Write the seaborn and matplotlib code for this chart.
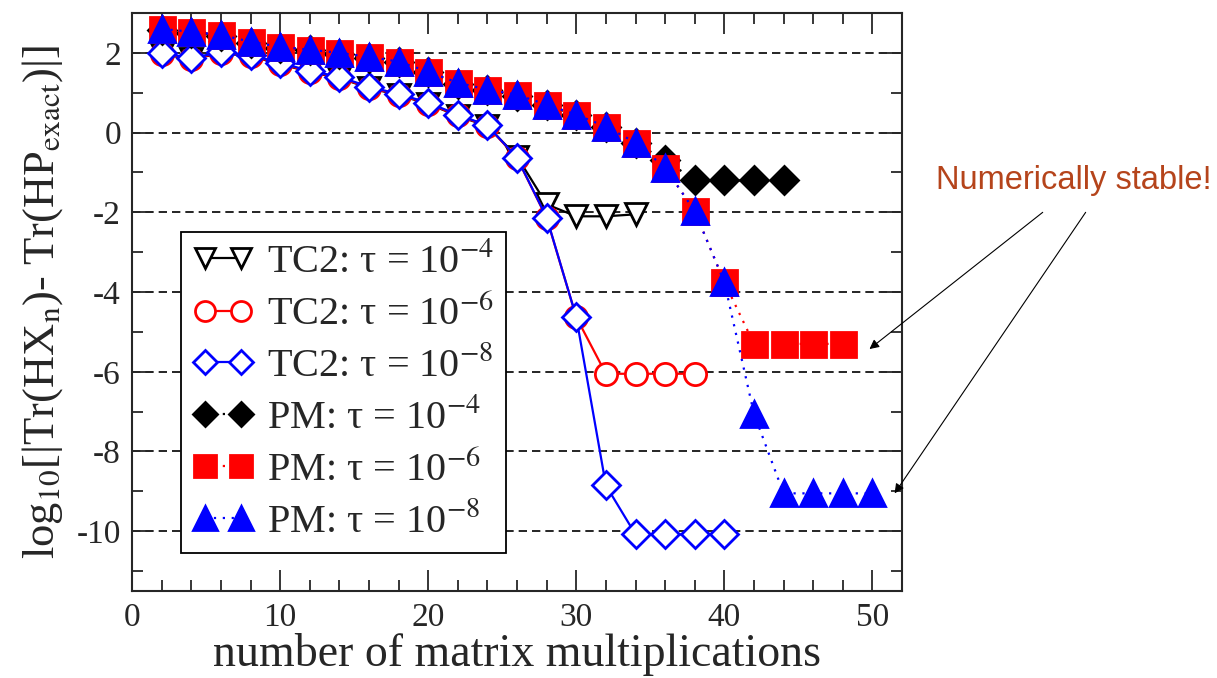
import numpy as np
import matplotlib
matplotlib.use("Agg")
import matplotlib.pyplot as plt
import seaborn as sns
from matplotlib.ticker import MultipleLocator

# TC2 purification, three tolerances
x_tc2_4 = [2, 4, 6, 8, 10, 12, 14, 16, 18, 20, 22, 24, 26, 28, 30, 32, 34]
y_tc2_4 = [1.97, 1.84, 1.99, 1.92, 1.72, 1.52, 1.37, 1.12, 0.94, 0.72, 0.42, 0.16,
           -0.6, -1.8, -2.1, -2.1, -2.05]
x_tc2_6 = [2, 4, 6, 8, 10, 12, 14, 16, 18, 20, 22, 24, 26, 28, 30, 32, 34, 36, 38]
y_tc2_6 = [1.98, 1.85, 2.0, 1.93, 1.73, 1.53, 1.38, 1.13, 0.95, 0.73, 0.43, 0.17,
           -0.64, -2.14, -4.63, -6.05, -6.05, -6.05, -6.05]
x_tc2_8 = [2, 4, 6, 8, 10, 12, 14, 16, 18, 20, 22, 24, 26, 28, 30, 32, 34, 36, 38, 40]
y_tc2_8 = [2.0, 1.87, 2.02, 1.95, 1.75, 1.55, 1.4, 1.15, 0.97, 0.75, 0.45, 0.18,
           -0.63, -2.13, -4.63, -8.85, -10.08, -10.08, -10.08, -10.08]

# PM purification, three tolerances
x_pm_4 = [2, 4, 6, 8, 10, 12, 14, 16, 18, 20, 22, 24, 26, 28, 30, 32, 34, 36, 38, 40, 42, 44]
y_pm_4 = [2.58, 2.51, 2.43, 2.26, 2.13, 2.06, 1.98, 1.88, 1.76, 1.51, 1.23, 1.06,
          0.93, 0.68, 0.43, 0.13, -0.27, -0.68, -1.2, -1.2, -1.2, -1.2]
x_pm_6 = [2, 4, 6, 8, 10, 12, 14, 16, 18, 20, 22, 24, 26, 28, 30, 32, 34, 36, 38, 40,
          42, 44, 46, 48]
y_pm_6 = [2.6, 2.53, 2.45, 2.28, 2.15, 2.08, 2.0, 1.9, 1.78, 1.53, 1.25, 1.08,
          0.95, 0.7, 0.45, 0.15, -0.25, -0.88, -1.97, -3.75, -5.3, -5.3, -5.3, -5.3]
x_pm_8 = [2, 4, 6, 8, 10, 12, 14, 16, 18, 20, 22, 24, 26, 28, 30, 32, 34, 36, 38, 40,
          42, 44, 46, 48, 50]
y_pm_8 = [2.6, 2.53, 2.45, 2.28, 2.15, 2.08, 2.0, 1.9, 1.78, 1.53, 1.25, 1.08,
          0.95, 0.7, 0.45, 0.15, -0.25, -0.88, -1.97, -3.75, -7.05, -9.05, -9.05,
          -9.05, -9.05]

labels = ["TC2: τ = 10$^{-4}$", "TC2: τ = 10$^{-6}$", "TC2: τ = 10$^{-8}$",
          "PM: τ = 10$^{-4}$", "PM: τ = 10$^{-6}$", "PM: τ = 10$^{-8}$"]

sns.set_style("ticks")
plt.rcParams["font.family"] = ["Liberation Serif", "DejaVu Serif"]
plt.rcParams["mathtext.fontset"] = "stix"
plt.rcParams["axes.unicode_minus"] = False

fig = plt.figure(figsize=(12.17, 6.78), dpi=100)
ax = fig.add_axes([0.1085, 0.1283, 0.6327, 0.8525])

dotted = (0, (1, 3))
series = [
    (x_tc2_4, y_tc2_4, "black", "v", 16, "white", "-"),
    (x_tc2_6, y_tc2_6, "red", "o", 16, "white", "-"),
    (x_tc2_8, y_tc2_8, "blue", "D", 14, "white", "-"),
    (x_pm_4, y_pm_4, "black", "D", 14, "black", dotted),
    (x_pm_6, y_pm_6, "red", "s", 18, "red", dotted),
    (x_pm_8, y_pm_8, "blue", "^", 19, "blue", dotted),
]
for (xs, ys, col, mk, ms, fc, ls), lab in zip(series, labels):
    sns.lineplot(x=xs, y=ys, ax=ax, color=col, marker=mk, markersize=ms,
                 markerfacecolor=fc, markeredgecolor=col, markeredgewidth=2,
                 linestyle=ls, linewidth=1.6, label=lab, legend=False)

for yv in range(-10, 3, 2):
    ax.axhline(yv, color="black", lw=1.2, ls=(0, (5, 3)), zorder=0)

ax.set_xlim(0, 52)
ax.set_ylim(-11.5, 3)
ax.xaxis.set_major_locator(MultipleLocator(10))
ax.xaxis.set_minor_locator(MultipleLocator(2))
ax.yaxis.set_major_locator(MultipleLocator(2))
ax.yaxis.set_minor_locator(MultipleLocator(1))
ax.tick_params(which="both", direction="in", top=True, right=True, labelsize=24,
               width=1.3)
ax.tick_params(which="major", length=15, pad=8)
ax.tick_params(which="minor", length=8)
for sp in ax.spines.values():
    sp.set_linewidth(1.5)

ax.set_xlabel("number of matrix multiplications", fontsize=33, labelpad=0)
ax.set_ylabel(r"log$_{10}$[|Tr(HX$_{\rm n}$)- Tr(HP$_{\rm exact}$)|]", fontsize=32,
              labelpad=8)

leg = ax.legend(loc="upper left", bbox_to_anchor=(0.064, 0.621), borderaxespad=0,
                fancybox=False, edgecolor="black", framealpha=1, fontsize=29,
                numpoints=2, handlelength=1.5, handletextpad=0.35,
                labelspacing=0.34, borderpad=0.28, markerscale=0.9)
leg.get_frame().set_linewidth(1.3)

fig.text(0.882, 0.734, "Numerically stable!", ha="center", va="center",
         color="#B5441B", fontsize=23.5, family="Liberation Sans")
arrow = dict(arrowstyle="-|>", color="black", lw=0.8, mutation_scale=14,
             shrinkA=0, shrinkB=0)
ax.annotate("", xy=(49.8, -5.43), xytext=(61.5, -2.0), arrowprops=arrow,
            annotation_clip=False)
ax.annotate("", xy=(51.5, -9.05), xytext=(64.4, -2.0), arrowprops=arrow,
            annotation_clip=False)

fig.savefig("out.png", dpi=100)
